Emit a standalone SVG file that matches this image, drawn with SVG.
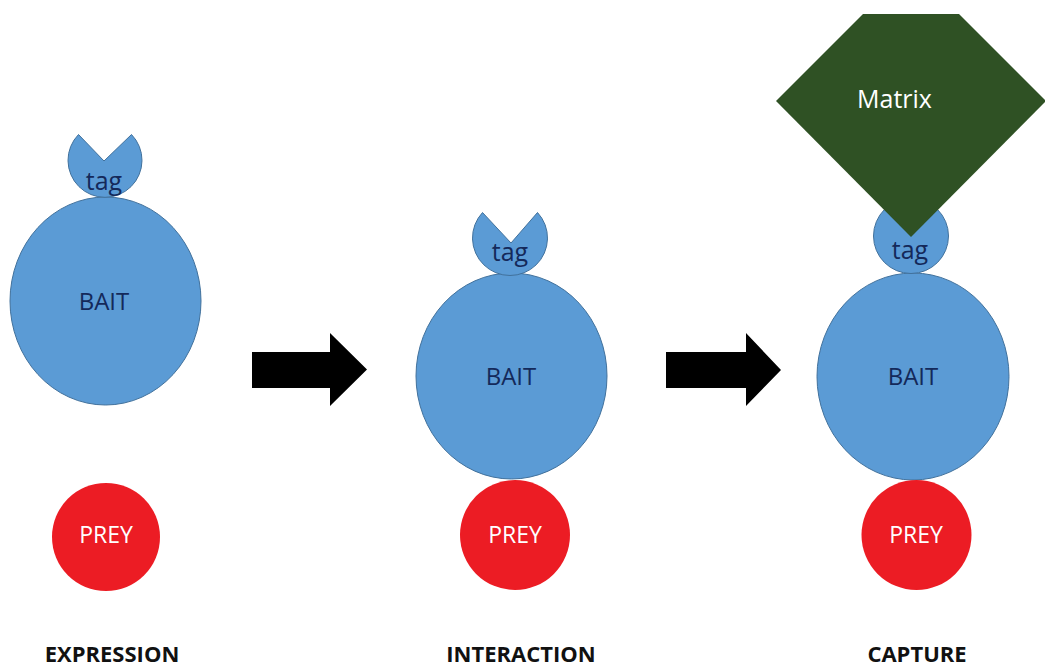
<svg xmlns="http://www.w3.org/2000/svg" width="1045" height="666" viewBox="0 0 1045 666">
<style>
.blue{fill:#5B9BD5;stroke:#41719C;stroke-width:1}
.red{fill:#EC1C24}
.arrow{fill:#000}
.matrix{fill:#2F5124}
.t{font-family:"Open Sans","Liberation Sans",sans-serif;text-anchor:middle}
.dark{fill:#14295A;font-size:24px}
.tagt{fill:#14295A;font-size:25px}
.white{fill:#FFFFFF;font-size:23px}
.mt{fill:#FFFFFF;font-size:25px}
.lbl{font-family:"Open Sans","Liberation Sans",sans-serif;font-weight:bold;font-size:22px;fill:#111;text-anchor:middle}
</style>
<rect width="1045" height="666" fill="#FFFFFF"/>
<g id="expression">
  <g id="bait1"><ellipse class="blue" cx="105.5" cy="301" rx="95.5" ry="104"/><text class="t dark" x="104" y="310">BAIT</text></g>
  <g id="tag1"><path class="blue" d="M104,161 L131.5,134.5 A37,37 0 1 1 78.5,134.5 Z"/><text class="t tagt" x="104" y="190">tag</text></g>
  <g id="prey1"><circle class="red" cx="106" cy="537" r="54"/><text class="t white" x="106" y="543">PREY</text></g>
  <text class="lbl" x="112" y="662">EXPRESSION</text>
</g>
<g id="interaction">
  <g id="bait2"><ellipse class="blue" cx="511.5" cy="376" rx="95.5" ry="103"/><text class="t dark" x="511" y="385">BAIT</text></g>
  <g id="tag2"><path class="blue" d="M511,243 L537.5,212.5 A37.5,37.5 0 1 1 482.5,212.5 Z"/><text class="t tagt" x="510" y="261">tag</text></g>
  <g id="prey2"><circle class="red" cx="515" cy="535" r="55"/><text class="t white" x="515" y="543">PREY</text></g>
  <text class="lbl" x="521" y="662">INTERACTION</text>
</g>
<g id="capture">
  <g id="bait3"><ellipse class="blue" cx="913" cy="376.5" rx="96" ry="103.5"/><text class="t dark" x="913" y="385">BAIT</text></g>
  <g id="tag3"><circle class="blue" cx="911" cy="236" r="37.5"/><text class="t tagt" x="910" y="259">tag</text></g>
  <g id="matrix"><polygon class="matrix" points="776,101 863,14 959,14 1046,101 911,237"/><text class="t mt" x="894.5" y="108">Matrix</text></g>
  <g id="prey3"><circle class="red" cx="916.5" cy="535" r="55"/><text class="t white" x="916" y="543">PREY</text></g>
  <text class="lbl" x="917" y="662">CAPTURE</text>
</g>
<g id="connectors">
  <polygon class="arrow" points="252,352 330,352 330,333 367,369.5 330,406 330,388 252,388"/>
  <polygon class="arrow" points="666,352 746,352 746,333 781,370 746,406 746,388 666,388"/>
</g>
</svg>
